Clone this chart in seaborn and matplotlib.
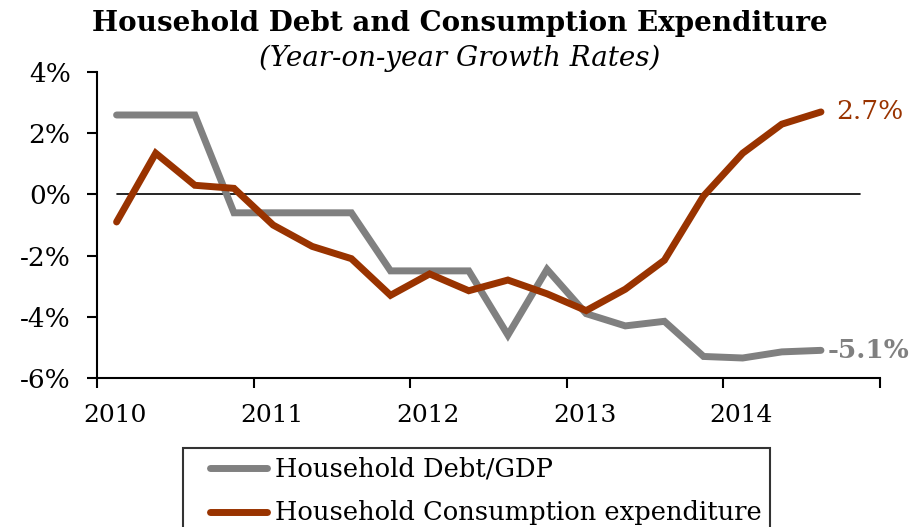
import pandas as pd
import matplotlib.pyplot as plt
import matplotlib.transforms as mtrans
import seaborn as sns

# quarterly observations (mid-quarter positions)
years = [2010.125, 2010.375, 2010.625, 2010.875,
         2011.125, 2011.375, 2011.625, 2011.875,
         2012.125, 2012.375, 2012.625, 2012.875,
         2013.125, 2013.375, 2013.625, 2013.875,
         2014.125, 2014.375, 2014.625]
debt_gdp = [2.6, 2.6, 2.6, -0.6, -0.6, -0.6, -0.6, -2.5, -2.5, -2.5,
            -4.6, -2.45, -3.9, -4.3, -4.15, -5.3, -5.35, -5.15, -5.1]
consumption = [-0.9, 1.35, 0.3, 0.2, -1.0, -1.7, -2.1, -3.3, -2.6, -3.15,
               -2.8, -3.25, -3.8, -3.1, -2.15, -0.05, 1.35, 2.3, 2.7]
series_names = ["Household Debt/GDP", "Household Consumption expenditure"]
tick_years = [2010, 2011, 2012, 2013, 2014, 2015]
tick_labels = ["2010", "2011", "2012", "2013", "2014", ""]

df = pd.DataFrame({
    "year": years * 2,
    "value": debt_gdp + consumption,
    "series": [series_names[0]] * len(years) + [series_names[1]] * len(years),
})

sns.set_style("white")
plt.rcParams["font.family"] = ["DejaVu Serif"]
plt.rcParams["text.color"] = "black"
plt.rcParams["xtick.color"] = "black"
plt.rcParams["ytick.color"] = "black"

gray = "#808080"
rust = "#993300"

fig = plt.figure(figsize=(9.24, 5.27), dpi=100)
ax = fig.add_axes([0.105, 0.283, 0.847, 0.580])

sns.lineplot(data=df, x="year", y="value", hue="series",
             palette=[gray, rust], linewidth=5, ax=ax,
             solid_capstyle="round", solid_joinstyle="miter")

ax.set_xlim(2010, 2015)
ax.set_ylim(-6, 4)
ax.set_xticks(tick_years)
ax.set_xticklabels(tick_labels)
ax.set_yticks([-6, -4, -2, 0, 2, 4])
ax.set_yticklabels(["-6%", "-4%", "-2%", "0%", "2%", "4%"])
ax.set_xlabel("")
ax.set_ylabel("")
ax.tick_params(axis="both", length=7, width=1.5, direction="out",
               color="black", labelcolor="black", left=True, bottom=True)
ax.tick_params(axis="x", labelsize=18, pad=12)
ax.tick_params(axis="y", labelsize=19, pad=12)

# year labels sit a little right of their ticks
shift = mtrans.ScaledTranslation(18 / 100, 0, fig.dpi_scale_trans)
for lbl in ax.get_xticklabels():
    lbl.set_transform(lbl.get_transform() + shift)

for side in ["top", "right"]:
    ax.spines[side].set_visible(False)
for side in ["left", "bottom"]:
    ax.spines[side].set_color("black")
    ax.spines[side].set_linewidth(1.5)

# zero reference line
ax.axhline(0, xmin=0.026, xmax=0.975, color="black", linewidth=1.2, zorder=1)

# end-point labels
ax.text(years[-1] + 0.1, consumption[-1], "2.7%", color=rust, fontsize=19,
        va="center", ha="left")
ax.text(years[-1] + 0.04, debt_gdp[-1], "-5.1%", color=gray, fontsize=19,
        fontweight="bold", va="center", ha="left")

fig.text(0.498, 0.955, "Household Debt and Consumption Expenditure",
         ha="center", va="center", fontsize=20, fontweight="bold")
fig.text(0.498, 0.889, "(Year-on-year Growth Rates)",
         ha="center", va="center", fontsize=20, fontstyle="italic")

ax.get_legend().remove()
handles, labels = ax.get_legend_handles_labels()
leg = fig.legend(handles, labels, loc="upper left",
                 bbox_to_anchor=(183 / 924, 1 - 448 / 527),
                 frameon=True, fontsize=18.5, handlelength=2.92, handletextpad=0.3,
                 borderpad=0.35, labelspacing=0.72, borderaxespad=0,
                 fancybox=False)
leg.get_frame().set_edgecolor("black")
leg.get_frame().set_linewidth(1.5)
for line in leg.get_lines():
    line.set_linewidth(5)
    line.set_solid_capstyle("round")
    xd = line.get_xdata()
    line.set_xdata([xd[0] + 13, xd[-1]])
    line.set_ydata([line.get_ydata()[0]] * 2)

fig.savefig("out.png", dpi=100)
